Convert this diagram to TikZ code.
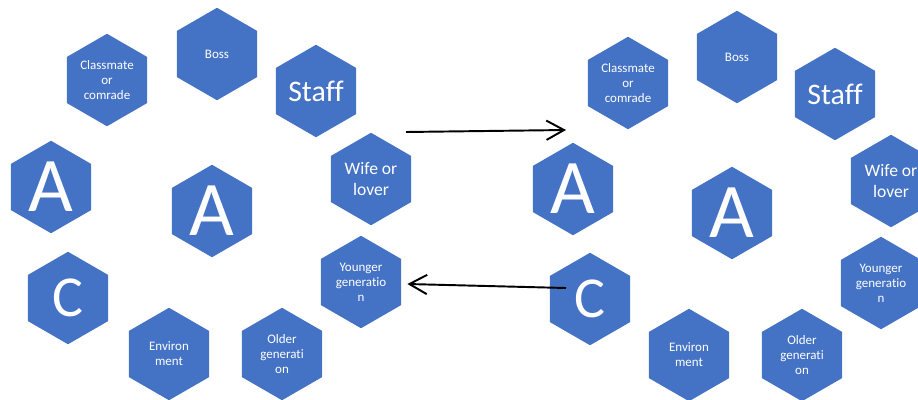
\documentclass[tikz,border=0pt]{standalone}
\usepackage{fontspec}
\setmainfont{Carlito}[Ligatures=NoCommon]
\usepackage{tikz}
\usetikzlibrary{shapes.geometric}
\usetikzlibrary{arrows.meta}
\definecolor{esablu}{HTML}{4472C4}
\tikzset{
	esagono/.style={regular polygon, regular polygon sides=6, shape border rotate=30, minimum size=1.85cm, inner sep=0pt, fill=esablu, text=white, align=center},
	piccolo/.style={font=\fontsize{7.4}{8.5}\selectfont},
	medio/.style={font=\fontsize{10}{12}\selectfont},
	staff/.style={font=\fontsize{17}{17}\selectfont},
	lettera/.style={font=\fontsize{44}{44}\selectfont},
	letterac/.style={font=\fontsize{33}{33}\selectfont},
	freccia/.style={-{Straight Barb[length=10pt,width=11pt]}, line width=1.1pt}
}
\begin{document}
\begin{tikzpicture}[x=0.02cm, y=-0.02cm]
	\useasboundingbox (0,0) rectangle (918,399);
	\clip (0,0) rectangle (918,399);
	
	%SINISTRA
	%esagoni
	\node[esagono, piccolo] (lClass) at (107,80) {Classmate\\or\\comrade};
	\node[esagono, piccolo] (lBoss) at (217,54) {Boss};
	\node[esagono, staff] (lStaff) at (316,91) {Staff};
	\node[esagono, medio] (lWife) at (371,179) {Wife or\\lover};
	\node[esagono, lettera] (lA1) at (51,187) {A};
	\node[esagono, lettera] (lA2) at (212,211) {A};
	\node[esagono, letterac] (lC) at (68,298) {C};
	\node[esagono, piccolo] (lYoung) at (361,282) {Younger\\generatio\\n};
	\node[esagono, piccolo] (lEnv) at (169,354) {Environ\\ment};
	\node[esagono, piccolo] (lOld) at (282,354) {Older\\generati\\on};
	
	%DESTRA
	%esagoni
	\node[esagono, piccolo] (rClass) at (628,83) {Classmate\\or\\comrade};
	\node[esagono, piccolo] (rBoss) at (737,57) {Boss};
	\node[esagono, staff] (rStaff) at (835,94) {Staff};
	\node[esagono, medio] (rWife) at (891,181) {Wife or\\lover};
	\node[esagono, lettera] (rA1) at (573,189) {A};
	\node[esagono, lettera] (rA2) at (732,213) {A};
	\node[esagono, letterac] (rC) at (590,299) {C};
	\node[esagono, piccolo] (rYoung) at (881,283) {Younger\\generatio\\n};
	\node[esagono, piccolo] (rEnv) at (689,355) {Environ\\ment};
	\node[esagono, piccolo] (rOld) at (802,355) {Older\\generati\\on};
	
	%frecce
	\coordinate (partenza) at (406,132);
	\coordinate (arrivo) at (566,130);
	\draw[freccia] (partenza) -- (arrivo);
	\draw[freccia] ([shift={(-24,-11)}]rC.center) -- ([shift={(6,2)}]lYoung.east);
	
\end{tikzpicture}
\end{document}
